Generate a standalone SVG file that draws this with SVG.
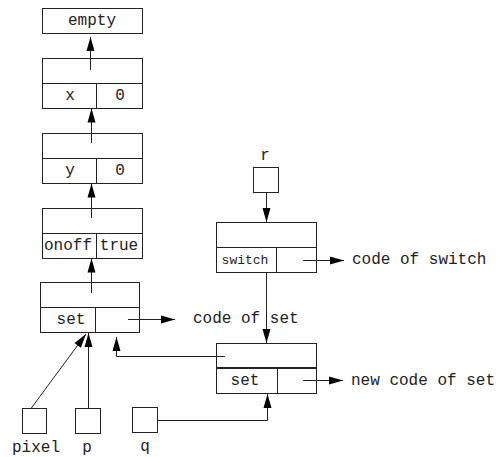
<svg xmlns="http://www.w3.org/2000/svg" width="499" height="457" viewBox="0 0 499 457">
<defs>
<marker id="ah" markerUnits="userSpaceOnUse" markerWidth="15" markerHeight="10" refX="14" refY="4.5" orient="auto" overflow="visible">
<path d="M0,0.5 L14,4.5 L0,8.5 z" fill="#000"/>
</marker>
<style>
rect{fill:#fff;stroke:#222;stroke-width:1}
.ln{fill:none;stroke:#222;stroke-width:1}
.ar{fill:none;stroke:#222;stroke-width:1;marker-end:url(#ah)}
text{font-family:"Liberation Mono","Courier New",monospace;font-size:16px;fill:#222}
.c{text-anchor:middle}
.s{font-size:13px}
</style>
</defs>
<rect width="499" height="457" style="fill:#fff;stroke:none"/>
<g id="empty"><rect x="42.5" y="8.5" width="100" height="25"/><text class="c" x="92" y="25">empty</text></g>
<g id="xnode"><rect x="42.5" y="58.5" width="100" height="50"/><path class="ln" d="M42.5,83.5H142.5M96.5,83.5V108.5"/><text class="c" x="70" y="100">x</text><text class="c" x="120" y="100">0</text></g>
<g id="ynode"><rect x="42.5" y="133.5" width="100" height="50"/><path class="ln" d="M42.5,158.5H142.5M96.5,158.5V183.5"/><text class="c" x="70" y="175">y</text><text class="c" x="120" y="175">0</text></g>
<g id="onoff"><rect x="42.5" y="208.5" width="100" height="50"/><path class="ln" d="M42.5,233.5H142.5M96.5,233.5V258.5"/><text class="c" x="68" y="250">onoff</text><text class="c" x="119" y="250">true</text></g>
<g id="setnode"><rect x="40.5" y="282.5" width="99" height="50"/><path class="ln" d="M40.5,307.5H139.5M95.5,307.5V332.5"/><text class="c" x="71" y="324">set</text></g>
<g id="switchnode"><rect x="216.5" y="222.5" width="100" height="50"/><path class="ln" d="M216.5,247.5H316.5M276.5,247.5V272.5"/><text class="c s" x="245" y="264">switch</text></g>
<g id="newset"><rect x="216.5" y="343.5" width="100" height="50"/><path class="ln" d="M216.5,368H316.5" style="stroke-width:2"/><path class="ln" d="M277.5,368.5V393.5"/><text class="c" x="245" y="385">set</text></g>
<g id="r"><rect x="253.5" y="167.5" width="25" height="25"/><text class="c" x="265" y="160">r</text></g>
<g id="pixel"><rect x="22.5" y="408.5" width="24" height="25"/><text class="c" x="36" y="452">pixel</text></g>
<g id="p"><rect x="75.5" y="408.5" width="25" height="25"/><text class="c" x="87" y="452">p</text></g>
<g id="q"><rect x="132.5" y="407.5" width="25" height="25"/><text class="c" x="145" y="451">q</text></g>
<g id="labels">
<text x="193" y="323">code of set</text>
<text x="352" y="264">code of switch</text>
<text x="351" y="385">new code of set</text>
</g>
<g id="connectors">
<path class="ar" d="M90.5,70V37"/>
<path class="ar" d="M91.5,143V108.5"/>
<path class="ar" d="M91.5,218V183.5"/>
<path class="ar" d="M91.5,293V258.5"/>
<path class="ar" d="M128,319.5H175"/>
<path class="ar" d="M31,408.5L86,334"/>
<path class="ar" d="M88.5,408.5V333"/>
<path class="ar" d="M225,356.5H116.5V337"/>
<path class="ar" d="M157.5,420.5H267.5V394"/>
<path class="ar" d="M266.5,192.5V222"/>
<path class="ar" d="M266.5,272.5V343"/>
<path class="ar" d="M303,260.5H344"/>
<path class="ar" d="M303,380.5H343"/>
</g>
</svg>
